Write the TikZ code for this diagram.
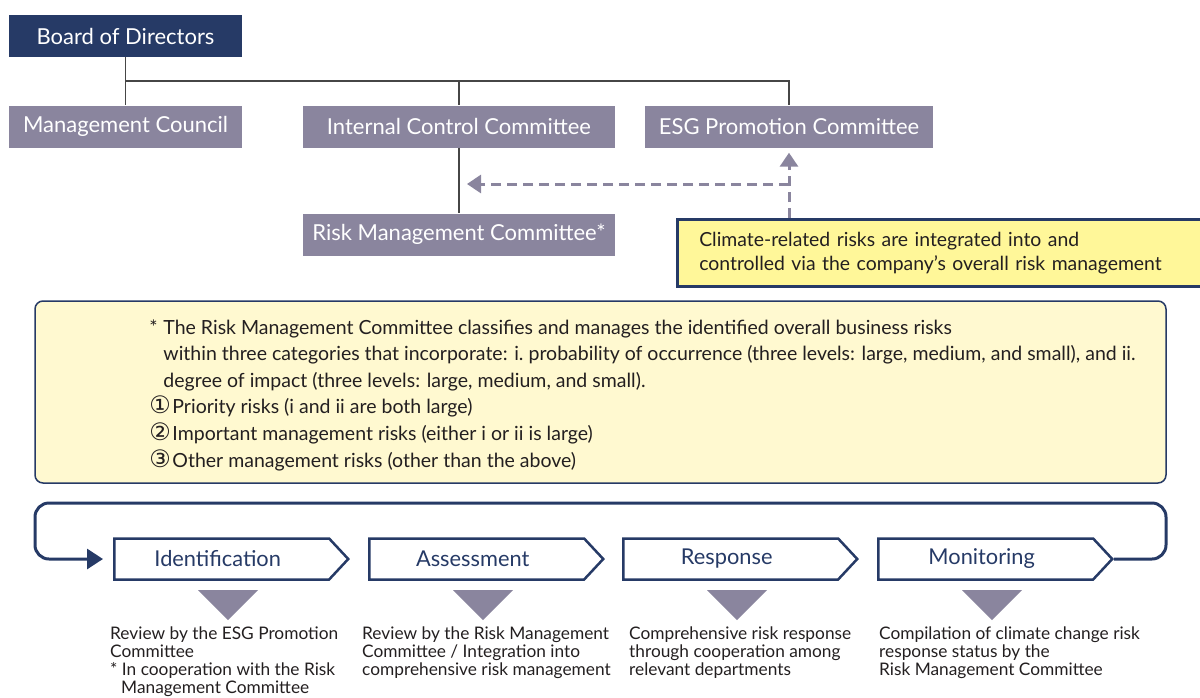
\documentclass[tikz,border=0pt]{standalone}
\usepackage{fontspec}
\setmainfont{Lato}
\newfontfamily\symfont{DejaVu Sans}
\usetikzlibrary{arrows.meta,shapes.symbols}
\definecolor{navy}{RGB}{38,58,102}
\definecolor{boxgray}{RGB}{138,133,158}
\definecolor{calloutyellow}{RGB}{255,247,153}
\definecolor{notefill}{RGB}{255,249,208}
\definecolor{textdark}{RGB}{35,31,32}
\definecolor{linegray}{RGB}{70,70,70}
\newcommand{\circnum}[1]{{\symfont\fontsize{24}{20}\selectfont#1}}

\begin{document}
\begin{tikzpicture}[x=1pt, y=-1pt, >=Triangle,
  orgbox/.style={fill=boxgray, text=white, inner sep=0pt, minimum height=42pt,
    font=\fontsize{22}{26}\selectfont},
  orgline/.style={linegray, line width=1.1pt},
  dashlink/.style={boxgray, line width=3pt, dash pattern=on 10pt off 6pt,
    -{Triangle[length=14pt,width=18pt]}},
  stagebox/.style={signal, signal to=east, signal pointer angle=94, draw=navy,
    line width=2.5pt, fill=white, text=navy, minimum height=41pt,
    minimum width=234pt, inner sep=0pt, anchor=west, font=\fontsize{21.8}{25}\selectfont},
  desc/.style={anchor=north west, inner sep=0pt, align=left, text=textdark,
    font=\fontsize{17.3}{18}\selectfont},
  loopline/.style={navy, line width=3pt, rounded corners=14pt,
    -{Triangle[length=16pt,width=20pt]}}]
  \useasboundingbox (0,0) rectangle (1200,697);

  % organisation
  \node[orgbox, fill=navy, minimum width=233pt] (board) at (125.5,36) {Board of Directors};
  \node[orgbox, minimum width=233pt] (mgmt) at (125.5,126.5) {Management Council};
  \node[orgbox, minimum width=312pt] (icc) at (459,126.5) {Internal Control Committee};
  \node[orgbox, minimum width=288pt] (esg) at (789,126.5) {ESG Promotion Committee};
  \node[orgbox, minimum width=312pt] (rmc) at (459,234.5) {Risk Management Committee*};
  \coordinate (bus) at (0,81);
  \draw[orgline] (board.south) -- (mgmt.north);
  \draw[orgline] (board.south |- bus) -| (esg.north);
  \draw[orgline] (icc.north |- bus) -- (icc.north);
  \draw[orgline] (icc.south) -- (rmc.north);

  % callout
  \node[fill=calloutyellow, draw=navy, line width=2.5pt, anchor=north west,
    minimum width=540pt, minimum height=67pt, inner xsep=22pt, text width=496pt,
    align=left, text=textdark, font=\fontsize{19.4}{24}\selectfont]
    (callout) at (676,218) {Climate-related risks are integrated into and\\
    controlled via the company's overall risk management};
  \draw[dashlink, shorten >=5pt] (callout.north -| esg.south) -- (esg.south);
  \draw[dashlink, shorten >=8pt] (esg.south |- 0,184) -- (icc.south |- 0,184);

  % note
  \node[draw=navy, line width=1.5pt, fill=notefill, rounded corners=8pt,
    minimum width=1131pt, minimum height=182pt] (note) at (600.5,392) {};
  \node[anchor=north west, inner sep=0pt, align=left, text=textdark,
    font=\fontsize{19.5}{26.6}\selectfont] (notetext) at ([shift={(115,19)}]note.north west)
    {\makebox[14pt][l]{*}The Risk Management Committee classifies and manages the identified overall business risks\\
    \hspace*{14pt}within three categories that incorporate: i.\ probability of occurrence (three levels: large, medium, and small), and ii.\\
    \hspace*{14pt}degree of impact (three levels: large, medium, and small).\\
    \makebox[23pt][l]{\circnum{①}}Priority risks (i and ii are both large)\\
    \makebox[23pt][l]{\circnum{②}}Important management risks (either i or ii is large)\\
    \makebox[23pt][l]{\circnum{③}}Other management risks (other than the above)};

  % process cycle
  \node[stagebox] (ident) at (113,559) {Identification\hspace*{8pt}};
  \node[stagebox] (assess) at (368,559) {Assessment\hspace*{8pt}};
  \node[stagebox] (resp) at (622,559) {Response\hspace*{8pt}};
  \node[stagebox] (monitor) at (877,559) {Monitoring\hspace*{8pt}};
  \coordinate (loopR) at (1166,503);
  \coordinate (loopL) at (35,503);
  \draw[loopline, shorten >=10pt] (monitor.east) -| (loopR) -- (loopL) |- (ident.west);
  \foreach \s in {ident,assess,resp,monitor}
    \fill[boxgray] (\s.west) ++(85,31) -- ++(60,0) -- ++(-30,30) -- cycle;

  \node[desc] (identtext) at (110,627) {Review by the ESG Promotion\\Committee\\
    * In cooperation with the Risk\\\hspace*{11pt}Management Committee};
  \node[desc] (assesstext) at (362,627) {Review by the Risk Management\\
    Committee / Integration into\\comprehensive risk management};
  \node[desc] (resptext) at (629,627) {Comprehensive risk response\\
    through cooperation among\\relevant departments};
  \node[desc] (monitortext) at (879,627) {Compilation of climate change risk\\
    response status by the\\Risk Management Committee};
\end{tikzpicture}
\end{document}
